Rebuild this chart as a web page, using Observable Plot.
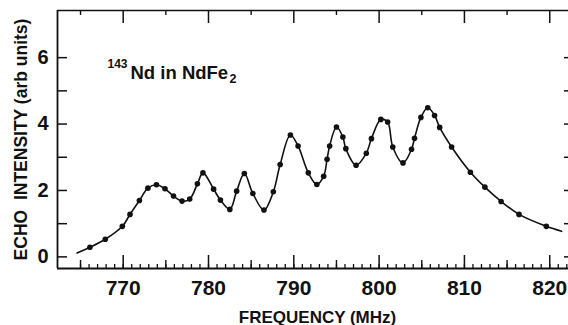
<!DOCTYPE html>
<html>
<head>
<meta charset="utf-8">
<script src="https://cdn.jsdelivr.net/npm/d3@7"></script>
<script src="https://cdn.jsdelivr.net/npm/@observablehq/plot@0.6"></script>
<style>
  html, body { margin: 0; padding: 0; background: #fff; }
  #chart { width: 568px; height: 325px; overflow: hidden; }
</style>
</head>
<body>
<div id="chart"></div>
<script>
// Measured echo points (frequency in MHz, intensity in arb units)
const freq = [766.1, 767.9, 769.9, 770.8, 771.9, 772.9, 773.9, 774.9, 775.9, 776.9,
  777.8, 778.7, 779.35, 780.6, 781.4, 782.5, 783.3, 784.2, 785.2, 786.5,
  787.6, 788.4, 789.6, 790.5, 791.7, 792.7, 793.5, 793.9, 794.2, 795.0,
  795.75, 796.1, 797.3, 798.5, 799.1, 800.2, 801.0, 801.6, 802.8, 803.8,
  804.15, 804.9, 805.7, 806.5, 807.1, 808.5, 810.7, 812.4, 814.3, 816.4, 819.6];
const echo = [0.29, 0.53, 0.92, 1.28, 1.70, 2.07, 2.17, 2.05, 1.83, 1.68,
  1.74, 2.20, 2.53, 2.04, 1.71, 1.43, 1.98, 2.51, 1.91, 1.41,
  1.96, 2.78, 3.67, 3.34, 2.53, 2.18, 2.43, 2.94, 3.34, 3.91,
  3.61, 3.26, 2.76, 3.12, 3.56, 4.14, 4.06, 3.31, 2.83, 3.24,
  3.57, 4.20, 4.49, 4.26, 3.90, 3.31, 2.55, 2.10, 1.67, 1.28, 0.92];
// Fitted curve end points
const curveStartFreq = 764.6, curveStartEcho = 0.12;
const curveEndFreq = 821.4, curveEndEcho = 0.77;

// Axes
const xDomain = [762.3, 822.2];
const yDomain = [-0.35, 7.42];
const xMajor = [770, 780, 790, 800, 810, 820];
const xMid = [765, 775, 785, 795, 805, 815];
const xMinor = d3.range(765, 823, 1);
const yMajor = [0, 2, 4, 6];
const yAll = [0, 1, 2, 3, 4, 5, 6];

const xLabel = "FREQUENCY (MHz)";
const yLabel = "ECHO  INTENSITY (arb units)";
const noteIso = "143";
const noteMain = "Nd in NdFe";
const noteSub = "2";

const points = freq.map((f, i) => ({f, e: echo[i]}));
const curve = [{f: curveStartFreq, e: curveStartEcho}, ...points, {f: curveEndFreq, e: curveEndEcho}];

const W = 568, H = 325, mL = 57, mR = 0, mT = 10, mB = 57;
const plotH = H - mT - mB, plotW = W - mL - mR;
const ink = "#111";
const bold = {fontWeight: "bold", fontFamily: "Liberation Sans, Arial, sans-serif", fill: ink};

const chart = Plot.plot({
  width: W, height: H,
  marginLeft: mL, marginRight: mR, marginTop: mT, marginBottom: mB,
  style: {background: "#fff", overflow: "visible"},
  x: {domain: xDomain},
  y: {domain: yDomain},
  marks: [
    // frame (left, bottom, top)
    Plot.ruleX([xDomain[0]], {stroke: ink, strokeWidth: 1.8}),
    Plot.ruleY([yDomain[0]], {stroke: ink, strokeWidth: 1.8}),
    Plot.ruleY([yDomain[1]], {stroke: ink, strokeWidth: 1.6}),
    // bottom ticks (inward)
    Plot.tickX(xMinor, {x: d => d, insetTop: plotH - 4, stroke: ink, strokeWidth: 1.3}),
    Plot.tickX(xMid, {x: d => d, insetTop: plotH - 8, stroke: ink, strokeWidth: 1.4}),
    Plot.tickX(xMajor, {x: d => d, insetTop: plotH - 13, stroke: ink, strokeWidth: 1.5}),
    // top ticks (inward)
    Plot.tickX(xMid, {x: d => d, insetBottom: plotH - 5, stroke: ink, strokeWidth: 1.4}),
    Plot.tickX(xMajor, {x: d => d, insetBottom: plotH - 13, stroke: ink, strokeWidth: 1.5}),
    // left and right ticks (inward)
    Plot.tickY(yAll, {y: d => d, insetRight: plotW - 10, stroke: ink, strokeWidth: 1.5}),
    Plot.tickY(yAll, {y: d => d, insetLeft: plotW - 4, stroke: ink, strokeWidth: 1.5}),
    // tick labels
    Plot.axisX(xMajor, {anchor: "bottom", tickSize: 0, tickPadding: 12, fontSize: 21, label: null, ...bold}),
    Plot.axisY(yMajor, {anchor: "left", tickSize: 0, tickPadding: 9, fontSize: 20, label: null, ...bold}),
    // axis titles
    Plot.text([xLabel], {frameAnchor: "bottom", dy: 54, dx: 4.5, textAnchor: "middle", lineAnchor: "bottom", fontSize: 17, ...bold}),
    Plot.text([yLabel], {frameAnchor: "left", dx: -36.5, rotate: -90, textAnchor: "middle", lineAnchor: "middle", fontSize: 17.5, ...bold}),
    // annotation
    Plot.text([noteIso], {frameAnchor: "top-left", dx: 50, dy: 57, textAnchor: "start", lineAnchor: "bottom", fontSize: 12, ...bold}),
    Plot.text([noteMain], {frameAnchor: "top-left", dx: 73, dy: 68, textAnchor: "start", lineAnchor: "bottom", fontSize: 18.5, ...bold}),
    Plot.text([noteSub], {frameAnchor: "top-left", dx: 172, dy: 72, textAnchor: "start", lineAnchor: "bottom", fontSize: 12.5, ...bold}),
    // fitted curve and data
    Plot.line(curve, {x: "f", y: "e", curve: "catmull-rom", stroke: ink, strokeWidth: 1.6}),
    Plot.dot(points, {x: "f", y: "e", r: 2.8, fill: ink, stroke: null})
  ]
});
document.getElementById("chart").appendChild(chart);
</script>
</body>
</html>
